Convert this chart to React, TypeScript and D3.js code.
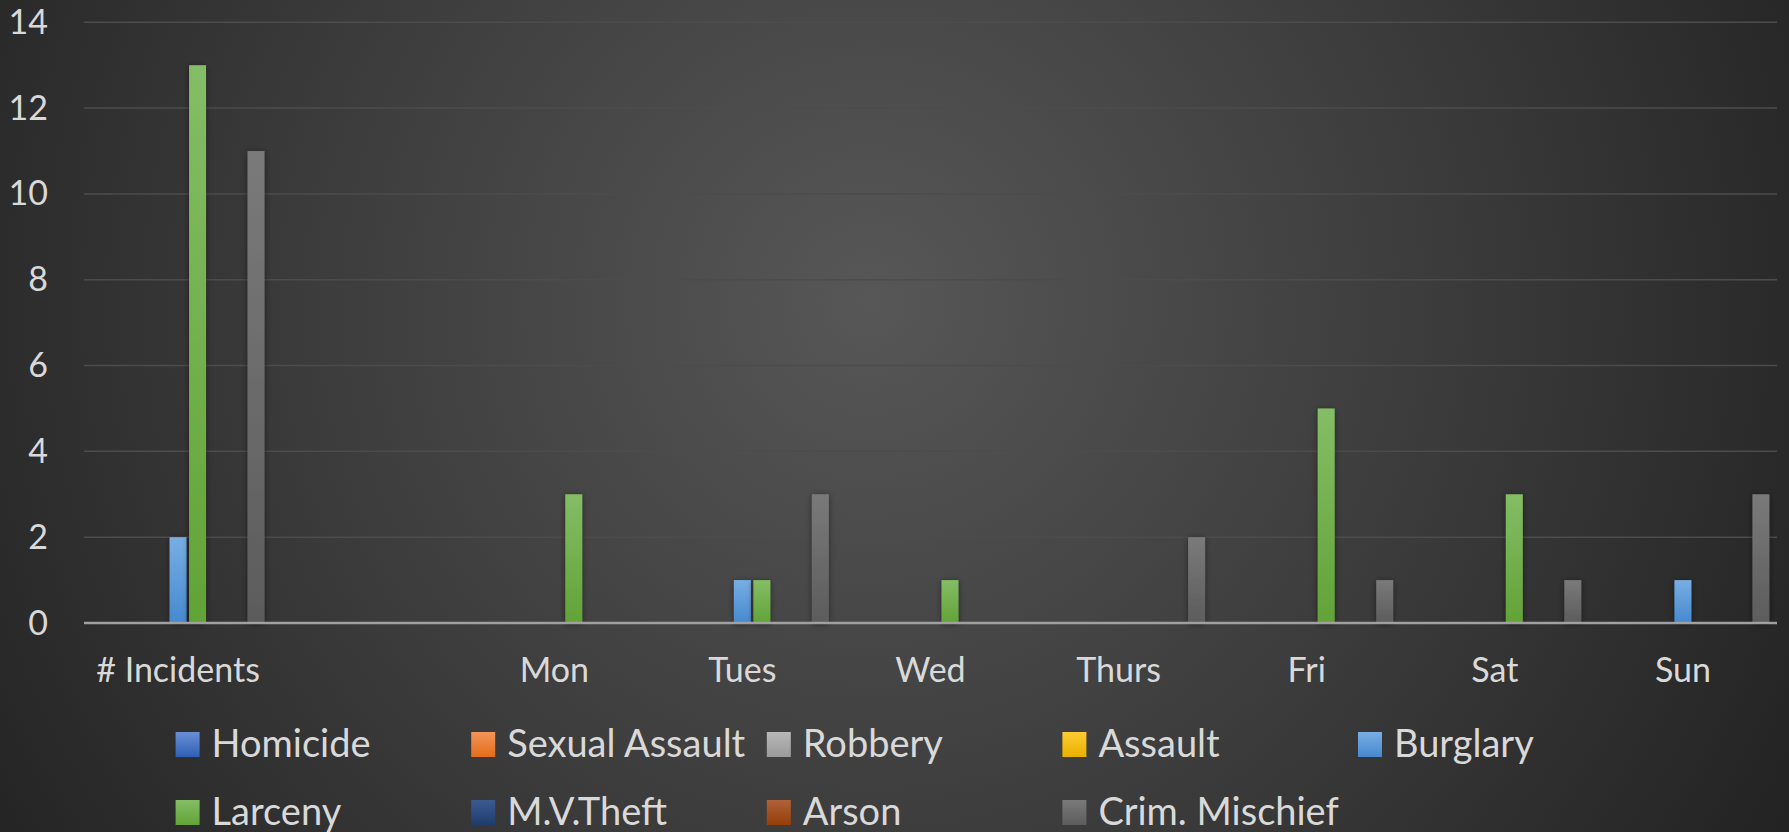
import React from "react";
import * as d3 from "d3";

const categories = ["# Incidents", "", "Mon", "Tues", "Wed", "Thurs", "Fri", "Sat", "Sun"];
const seriesNames = ["Homicide", "Sexual Assault", "Robbery", "Assault", "Burglary", "Larceny", "M.V.Theft", "Arson", "Crim. Mischief"];
const homicide = [0, 0, 0, 0, 0, 0, 0, 0, 0];
const sexualAssault = [0, 0, 0, 0, 0, 0, 0, 0, 0];
const robbery = [0, 0, 0, 0, 0, 0, 0, 0, 0];
const assault = [0, 0, 0, 0, 0, 0, 0, 0, 0];
const burglary = [2, 0, 0, 1, 0, 0, 0, 0, 1];
const larceny = [13, 0, 3, 1, 1, 0, 5, 3, 0];
const mvTheft = [0, 0, 0, 0, 0, 0, 0, 0, 0];
const arson = [0, 0, 0, 0, 0, 0, 0, 0, 0];
const crimMischief = [11, 0, 0, 3, 0, 2, 1, 1, 3];
const yTicks = [0, 2, 4, 6, 8, 10, 12, 14];

const seriesValues = [homicide, sexualAssault, robbery, assault, burglary, larceny, mvTheft, arson, crimMischief];
const seriesTop = ["#6a90d6", "#f39559", "#b8b8b8", "#ffcb33", "#78aee3", "#84bd66", "#3b5a8e", "#b0613a", "#7a7a7a"];
const seriesBottom = ["#2f5fb5", "#e46c1a", "#9a9a9a", "#e8b000", "#4689cf", "#62a336", "#1f3c6e", "#963f08", "#5c5c5c"];

const W = 1789;
const H = 832;
const FONT = "Lato, 'Open Sans', sans-serif";

export default function App() {
  const x = d3.scaleBand<string>().domain(categories.map((c, i) => i + ":" + c)).range([84, 1777]).paddingInner(0).paddingOuter(0);
  const xi = d3.scaleBand<string>().domain(seriesNames).range([0, x.bandwidth()]).paddingInner(0.13).paddingOuter(0.39);
  const y = d3.scaleLinear().domain([0, 14]).range([623, 22.3]);
  const legendX = d3.scaleLinear().domain([0, 1]).range([175.6, 471.2]);
  const legendRows = [732, 800];

  return (
    <svg width={W} height={H} style={{ position: "absolute", left: 0, top: 0 }} xmlns="http://www.w3.org/2000/svg">
      <defs>
        <radialGradient id="bg" gradientUnits="userSpaceOnUse" cx={870} cy={300} r={1050}>
          <stop offset="0" stopColor="#575757" />
          <stop offset="0.55" stopColor="#3b3b3b" />
          <stop offset="1" stopColor="#232323" />
        </radialGradient>
        {seriesNames.map((s, i) => (
          <linearGradient key={s} id={"g" + i} x1="0" y1="0" x2="0" y2="1">
            <stop offset="0" stopColor={seriesTop[i]} />
            <stop offset="1" stopColor={seriesBottom[i]} />
          </linearGradient>
        ))}
        <filter id="sh" x="-50%" y="-10%" width="200%" height="120%">
          <feDropShadow dx="0" dy="1" stdDeviation="3" floodColor="#000" floodOpacity="0.45" />
        </filter>
      </defs>
      <rect x={0} y={0} width={W} height={H} fill="url(#bg)" />
      {yTicks.map((t) => (
        <line key={t} x1={84} x2={1777} y1={y(t)} y2={y(t)} stroke="#4c4c4c" strokeWidth={1.5} />
      ))}
      {yTicks.map((t) => (
        <text key={"l" + t} x={48} y={y(t) + 11.5} textAnchor="end" fontFamily={FONT} fontSize={34} fill="#d9d9d9">
          {t}
        </text>
      ))}
      {seriesNames.map((s, si) =>
        seriesValues[si].map((v, ci) => {
          if (v <= 0) return null;
          const bx = (x(ci + ":" + categories[ci]) as number) + (xi(s) as number);
          return (
            <rect key={s + ci} x={bx} y={y(v)} width={xi.bandwidth()} height={y(0) - y(v)} fill={"url(#g" + si + ")"} filter="url(#sh)" />
          );
        })
      )}
      <line x1={84} x2={1777} y1={y(0)} y2={y(0)} stroke="#a0a0a0" strokeWidth={2.5} />
      {categories.map((c, i) => (
        <text key={"c" + i} x={(x(i + ":" + c) as number) + x.bandwidth() / 2} y={682} textAnchor="middle" fontFamily={FONT} fontSize={34} fill="#d9d9d9">
          {c}
        </text>
      ))}
      {seriesNames.map((s, i) => {
        const col = i % 5;
        const row = Math.floor(i / 5);
        const lx = legendX(col);
        const ly = legendRows[row];
        return (
          <g key={"lg" + s}>
            <rect x={lx} y={ly} width={24} height={25} fill={"url(#g" + i + ")"} />
            <text x={lx + 36} y={ly + 25} fontFamily={FONT} fontSize={38} fill="#d9d9d9">
              {s}
            </text>
          </g>
        );
      })}
    </svg>
  );
}
